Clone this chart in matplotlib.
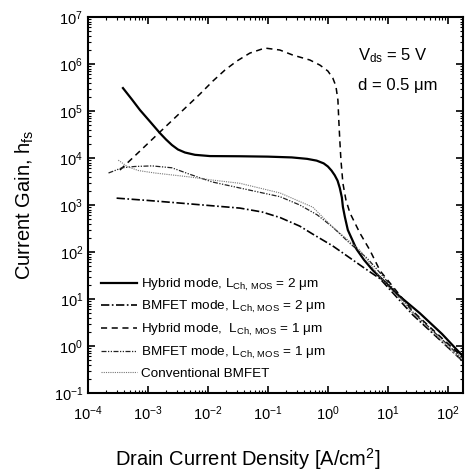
import numpy as np
import matplotlib
matplotlib.use('Agg')
import matplotlib.pyplot as plt
from matplotlib.ticker import LogLocator, NullFormatter

plt.rcParams['font.family'] = ['Liberation Sans', 'DejaVu Sans']
plt.rcParams['mathtext.fontset'] = 'custom'
plt.rcParams['mathtext.rm'] = 'Liberation Sans'
plt.rcParams['mathtext.it'] = 'Liberation Sans'

# Hybrid mode, L = 2 um (solid)
hyb2_x = [3.83e-4, 5.41e-4, 7.36e-4, 1.08e-3, 1.58e-3, 2e-3, 2.51e-3, 3.16e-3, 4.14e-3,
          6.07e-3, 0.0108, 0.034, 0.1, 0.25, 0.45, 0.65, 0.85, 1.0, 1.15, 1.3, 1.45, 1.58,
          1.71, 1.78, 1.92, 2.15, 2.61, 3.0, 4.0, 5.6, 7.4, 15, 34, 80, 175]
hyb2_y = [3.08e5, 1.76e5, 1.05e5, 5.98e4, 3.4e4, 2.48e4, 1.89e4, 1.52e4, 1.31e4,
          1.17e4, 1.1e4, 1.09e4, 1.07e4, 1.03e4, 9.6e3, 8.8e3, 7.7e3, 6.6e3, 5.4e3, 4.3e3, 3.3e3,
          2.3e3, 1.45e3, 910, 556, 294, 170, 115, 68, 41, 29, 12, 5, 1.8, 0.62]

# BMFET mode, L = 2 um (dash-dot)
bm2_x = [3e-4, 1e-3, 3.4e-3, 0.01, 0.034, 0.08, 0.16, 0.34, 0.56, 1.2, 2.1, 4.0, 7.4, 26, 170]
bm2_y = [1.4e3, 1.25e3, 1.1e3, 980, 860, 710, 540, 355, 240, 135, 82, 46, 27, 4.6, 0.5]

# Hybrid mode, L = 1 um (dashed)
hyb1_x = [3.41e-4, 7.36e-4, 1.58e-3, 3.41e-3, 7.36e-3, 0.0121, 0.0192, 0.0304, 0.05, 0.089,
          0.158, 0.261, 0.5, 0.736, 1.0, 1.21, 1.36, 1.47, 1.52, 1.58, 1.65, 1.78, 2.0, 2.33,
          3.41, 5.0, 7.4, 26, 170]
hyb1_y = [5.56e3, 1.41e4, 3.57e4, 9.06e4, 2.3e5, 4.35e5, 7.45e5, 1.16e6, 1.71e6, 2.19e6,
          1.99e6, 1.55e6, 1.22e6, 9.5e5, 7.1e5, 5.0e5, 3.4e5, 1.7e5, 6.4e4, 2.4e4, 9.1e3, 2.9e3,
          1.28e3, 680, 254, 110, 40, 5.5, 0.6]

# BMFET mode, L = 1 um (dash-dot-dot)
bm1_x = [2.2e-4, 3.7e-4, 6e-4, 1.17e-3, 2.5e-3, 5e-3, 0.0117, 0.04, 0.16, 0.34, 0.66, 1.2,
         2.3, 4.5, 7.4, 26, 170]
bm1_y = [4.8e3, 6.2e3, 6.6e3, 6.8e3, 6.2e3, 4.5e3, 3.1e3, 2.2e3, 1.5e3, 1e3, 620, 340,
         155, 74, 36, 5.3, 0.56]

# Conventional BMFET (dotted)
conv_x = [3.2e-4, 4.6e-4, 7e-4, 1.3e-3, 4.6e-3, 0.0117, 0.034, 0.16, 0.56, 1.2, 3.4, 7.4, 26, 170]
conv_y = [9e3, 6.5e3, 5.4e3, 4.8e3, 4e3, 3.4e3, 2.9e3, 1.8e3, 900, 340, 110, 29, 5, 0.5]

fig = plt.figure(figsize=(4.68, 4.74), dpi=100)
ax = fig.add_axes([0.188, 0.171, 0.801, 0.793])

ax.plot(hyb2_x, hyb2_y, color='black', lw=1.6, ls='-',
        label=r'Hybrid mode, L$_{\mathrm{Ch,\,MOS}}$ = 2 μm')
ax.plot(bm2_x, bm2_y, color='black', lw=1.2, ls=(0, (5, 1.5, 1, 1.5)),
        label=r'BMFET mode, L$_{\mathrm{Ch,\,MOS}}$ = 2 μm')
ax.plot(hyb1_x, hyb1_y, color='black', lw=1.1, ls=(0, (4, 3)),
        label=r'Hybrid mode,  L$_{\mathrm{Ch,\,MOS}}$ = 1 μm')
ax.plot(bm1_x, bm1_y, color='#222222', lw=0.9, ls=(0, (4, 1.2, 1, 1.2, 1, 1.2)),
        label=r'BMFET mode, L$_{\mathrm{Ch,\,MOS}}$ = 1 μm')
ax.plot(conv_x, conv_y, color='#777777', lw=0.8, ls=(0, (1, 1)),
        label='Conventional BMFET')

ax.set_xscale('log')
ax.set_yscale('log')
ax.set_xlim(1e-4, 178)
ax.set_ylim(1e-1, 1e7)

ax.xaxis.set_major_locator(LogLocator(base=10, numticks=20))
ax.yaxis.set_major_locator(LogLocator(base=10, numticks=20))
ax.xaxis.set_minor_locator(LogLocator(base=10, subs=np.arange(2, 10), numticks=100))
ax.yaxis.set_minor_locator(LogLocator(base=10, subs=np.arange(2, 10), numticks=100))
ax.xaxis.set_minor_formatter(NullFormatter())
ax.yaxis.set_minor_formatter(NullFormatter())

ax.tick_params(which='both', direction='in', top=True, right=True, labelsize=10.5)
ax.tick_params(which='major', length=5, width=1.2)
ax.tick_params(which='minor', length=2.5, width=0.8)
ax.tick_params(axis='x', pad=8)
for s in ax.spines.values():
    s.set_linewidth(1.5)

ax.set_xlabel('Drain Current Density [A/cm$^2$]', fontsize=14.5)
ax.set_ylabel('Current Gain, h$_{fs}$', fontsize=14.5)
ax.xaxis.set_label_coords(0.427, -0.141)
ax.yaxis.set_label_coords(-0.139, 0.5)

ax.text(0.72, 0.897, r'V$_{\mathrm{ds}}$ = 5 V', transform=ax.transAxes,
        fontsize=12, va='center', ha='left')
ax.text(0.72, 0.818, 'd = 0.5 μm', transform=ax.transAxes,
        fontsize=12, va='center', ha='left')

ax.legend(loc='lower left', bbox_to_anchor=(0.0, 0.0), frameon=False, fontsize=9.7,
          handlelength=2.7, handletextpad=0.3, labelspacing=0.5, borderaxespad=0.55)

fig.savefig('out.png', dpi=100)
